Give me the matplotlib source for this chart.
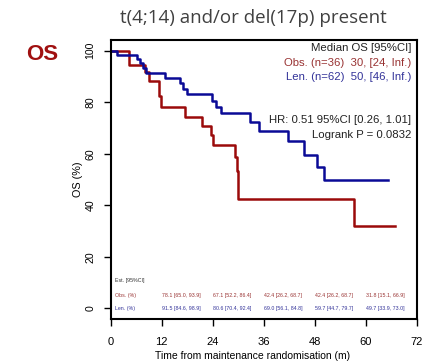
import matplotlib.pyplot as plt
import numpy as np

# Kaplan-Meier steps (months, % surviving)
obs_t = [0, 4.2, 8.0, 8.9, 11.3, 11.8, 17.5, 21.4, 23.5, 24.1, 29.2, 29.7, 29.9, 30.0, 57.2, 67.0]
obs_s = [100, 94.4, 91.7, 88.1, 82.3, 78.1, 74.4, 70.9, 67.1, 63.4, 58.9, 53.2, 47.8, 42.4, 31.8, 31.8]
len_t = [0, 1.5, 6.1, 6.9, 7.7, 8.3, 12.8, 16.3, 16.9, 18.0, 23.9, 24.7, 26.0, 32.8, 34.9,
         41.8, 45.5, 48.6, 50.2, 65.3]
len_s = [100, 98.4, 96.8, 95.1, 93.4, 91.5, 89.6, 87.4, 85.2, 83.1, 80.6, 78.2, 75.7, 72.4, 69.0,
         64.8, 59.7, 54.7, 49.7, 49.7]

# estimates table under the curves
est_times = [12, 24, 36, 48, 60]
obs_est = ["78.1 [65.0, 93.9]", "67.1 [52.2, 86.4]", "42.4 [26.2, 68.7]",
           "42.4 [26.2, 68.7]", "31.8 [15.1, 66.9]"]
len_est = ["91.5 [84.6, 98.9]", "80.6 [70.4, 92.4]", "69.0 [56.1, 84.8]",
           "59.7 [44.7, 79.7]", "49.7 [33.9, 73.0]"]

x_ticks = [0, 12, 24, 36, 48, 60, 72]
y_ticks = [0, 20, 40, 60, 80, 100]

obs_col = "#9b0a0a"
len_col = "#0a0a96"
obs_txt = "#993333"
len_txt = "#333399"

plt.rcParams['font.family'] = ['Liberation Sans', 'DejaVu Sans']

fig = plt.figure(figsize=(4.26, 3.61), dpi=100)
ax = fig.add_axes([0.26, 0.1163, 0.718, 0.7729])

ax.step(obs_t, obs_s, where="post", color=obs_col, lw=1.8)
ax.step(len_t, len_s, where="post", color=len_col, lw=1.8)

ax.set_xlim(0, 72)
ax.set_ylim(-4.2, 104.2)
ax.set_xticks(x_ticks)
ax.set_yticks(y_ticks)
ax.tick_params(axis="x", length=5, width=1, pad=8, labelsize=8)
ax.tick_params(axis="y", length=5, width=1, pad=6, labelsize=7.6, labelrotation=90)
for lab in ax.get_yticklabels():
    lab.set_va("center")
for sp in ax.spines.values():
    sp.set_linewidth(1.5)

ax.set_xlabel("Time from maintenance randomisation (m)", fontsize=7.5, labelpad=1)
ax.xaxis.set_label_coords(0.465, -0.115)
ax.set_ylabel("OS (%)", fontsize=7.8, labelpad=2)

# median / HR annotations
ax.text(70.7, 100.9, "Median OS [95%CI]", ha="right", va="center", fontsize=8.2, color="#222222")
ax.text(70.7, 95.1, "Obs. (n=36)  30, [24, Inf.)", ha="right", va="center", fontsize=8.2, color=obs_txt)
ax.text(70.7, 90.0, "Len. (n=62)  50, [46, Inf.)", ha="right", va="center", fontsize=8.2, color=len_txt)
ax.text(70.7, 73.1, "HR: 0.51 95%CI [0.26, 1.01]", ha="right", va="center", fontsize=8.2, color="#222222")
ax.text(70.7, 67.3, "Logrank P = 0.0832", ha="right", va="center", fontsize=8.2, color="#222222")

# table of estimates
ax.text(1.0, 10.7, "Est. [95%CI]", ha="left", va="center", fontsize=3.8, color="#333333")
ax.text(1.0, 4.9, "Obs. (%)", ha="left", va="center", fontsize=3.8, color=obs_txt)
ax.text(1.0, 0.0, "Len. (%)", ha="left", va="center", fontsize=3.8, color=len_txt)
for t, o, l in zip(est_times, obs_est, len_est):
    ax.text(t, 4.9, o, ha="left", va="center", fontsize=3.8, color=obs_txt)
    ax.text(t, 0.0, l, ha="left", va="center", fontsize=3.8, color=len_txt)

fig.text(0.594, 0.95, "t(4;14) and/or del(17p) present", ha="center", va="center",
         fontsize=13.5, color="#404040", family=["Open Sans", "DejaVu Sans"])
fig.text(0.099, 0.848, "OS", ha="center", va="center", fontsize=16, fontweight="bold",
         color="#a01010")

fig.savefig("out.png", dpi=100)
